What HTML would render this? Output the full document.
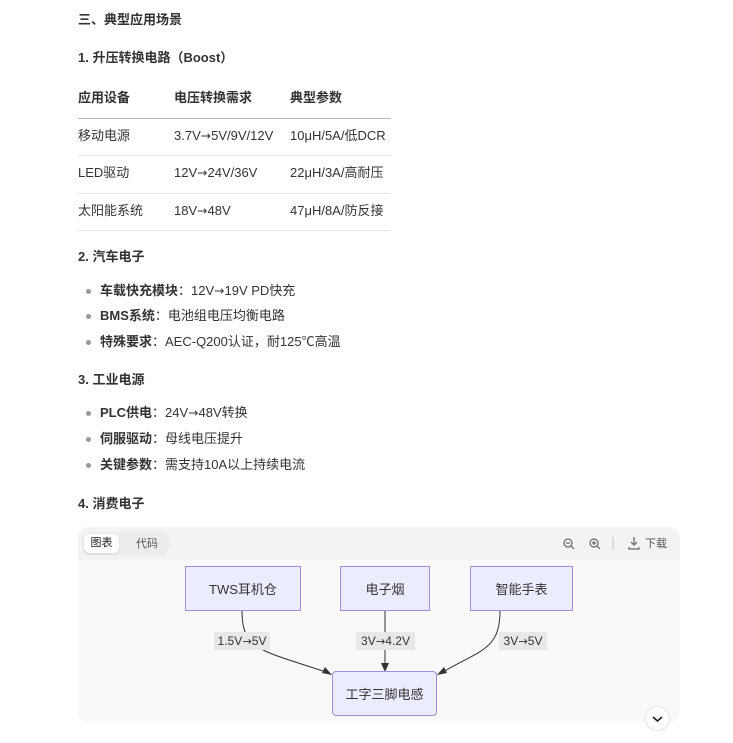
<!DOCTYPE html>
<html><head><meta charset="utf-8"><style>
*{margin:0;padding:0;box-sizing:border-box}
body{width:733px;height:743px;background:#fff;position:relative;overflow:hidden;font-family:"Liberation Sans","Noto Sans CJK SC",sans-serif;color:#333;font-size:13px}
.a{position:absolute;white-space:nowrap;line-height:16px}
.b{font-weight:bold}
.r{font-family:"DejaVu Sans",sans-serif;font-size:0.95em}
.hr{position:absolute;left:78px;width:313px;height:1px;background:#e6e6e6}
.dot{position:absolute;left:86px;width:5px;height:5px;border-radius:50%;background:#999}
.node{position:absolute;background:#ececff;border:1px solid #a58ae0;display:flex;align-items:center;justify-content:center;font-size:13px;color:#333}
.lbl{position:absolute;background:#e8e8e8;font-size:12px;line-height:18px;text-align:center;color:#333}
</style></head><body>
<div class="a b" style="left:78px;top:12px">三、典型应用场景</div>
<div class="a b" style="left:78px;top:50px">1. 升压转换电路（Boost）</div>
<div class="a b" style="left:78px;top:90px">应用设备</div>
<div class="a b" style="left:174px;top:90px">电压转换需求</div>
<div class="a b" style="left:290px;top:90px">典型参数</div>
<div class="hr" style="top:118px;background:#bbb"></div>
<div class="a" style="left:78px;top:128px">移动电源</div>
<div class="a" style="left:174px;top:128px">3.7V<span class="r">→</span>5V/9V/12V</div>
<div class="a" style="left:290px;top:128px">10μH/5A/低DCR</div>
<div class="hr" style="top:155px"></div>
<div class="a" style="left:78px;top:165px">LED驱动</div>
<div class="a" style="left:174px;top:165px">12V<span class="r">→</span>24V/36V</div>
<div class="a" style="left:290px;top:165px">22μH/3A/高耐压</div>
<div class="hr" style="top:193px"></div>
<div class="a" style="left:78px;top:203px">太阳能系统</div>
<div class="a" style="left:174px;top:203px">18V<span class="r">→</span>48V</div>
<div class="a" style="left:290px;top:203px">47μH/8A/防反接</div>
<div class="hr" style="top:230px"></div>

<div class="a b" style="left:78px;top:249px">2. 汽车电子</div>
<div class="dot" style="top:289px"></div><div class="a" style="left:100px;top:283px"><b>车载快充模块</b>：12V<span class="r">→</span>19V PD快充</div>
<div class="dot" style="top:314px"></div><div class="a" style="left:100px;top:308px"><b>BMS系统</b>：电池组电压均衡电路</div>
<div class="dot" style="top:340px"></div><div class="a" style="left:100px;top:334px"><b>特殊要求</b>：AEC-Q200认证，耐125℃高温</div>
<div class="a b" style="left:78px;top:372px">3. 工业电源</div>
<div class="dot" style="top:411px"></div><div class="a" style="left:100px;top:405px"><b>PLC供电</b>：24V<span class="r">→</span>48V转换</div>
<div class="dot" style="top:437px"></div><div class="a" style="left:100px;top:431px"><b>伺服驱动</b>：母线电压提升</div>
<div class="dot" style="top:463px"></div><div class="a" style="left:100px;top:457px"><b>关键参数</b>：需支持10A以上持续电流</div>
<div class="a b" style="left:78px;top:496px">4. 消费电子</div>

<div style="position:absolute;left:78px;top:527px;width:602px;height:196px;background:#f9f9f9;border-radius:12px;overflow:hidden">
 <div style="height:33px;background:#f3f3f3"></div>
</div>
<div style="position:absolute;left:82px;top:532px;width:87px;height:23px;background:#ececec;border-radius:8px"></div>
<div style="position:absolute;left:84px;top:534px;width:35px;height:19px;background:#fff;border-radius:6px;box-shadow:0 1px 2px rgba(0,0,0,.1);font-size:11px;line-height:19px;text-align:center;color:#222">图表</div>
<div class="a" style="left:136px;top:536px;font-size:11px;color:#555">代码</div>
<svg style="position:absolute;left:0;top:0" width="733" height="743">
 <g fill="none" stroke="#666" stroke-width="1.2">
  <circle cx="568" cy="543" r="4"/><line x1="571" y1="546" x2="574" y2="549"/><line x1="566" y1="543" x2="570" y2="543"/>
  <circle cx="594" cy="543" r="4"/><line x1="597" y1="546" x2="600" y2="549"/><line x1="592" y1="543" x2="596" y2="543"/><line x1="594" y1="541" x2="594" y2="545"/>
  <line x1="613" y1="537" x2="613" y2="550" stroke="#ccc"/>
  <path d="M634 537v8M631 542l3 3 3-3M629 547v2h10v-2"/>
 </g>
 <g fill="none" stroke="#333" stroke-width="1">
  <path d="M242 611 C242 650 260 650 326 672"/>
  <path d="M385 611 L385 666"/>
  <path d="M500 611 C500 650 480 650 443 672"/>
 </g>
 <g fill="#333">
  <polygon points="332,675 322,673 325,667"/>
  <polygon points="385,672 381,663 389,663"/>
  <polygon points="437,675 444,667 447,673"/>
 </g>
</svg>
<div class="a" style="left:645px;top:536px;font-size:11px;color:#555">下载</div>
<div class="node" style="left:185px;top:566px;width:116px;height:45px">TWS耳机仓</div>
<div class="node" style="left:340px;top:566px;width:90px;height:45px">电子烟</div>
<div class="node" style="left:470px;top:566px;width:103px;height:45px">智能手表</div>
<div class="node" style="left:332px;top:671px;width:105px;height:45px;border-radius:4px">工字三脚电感</div>
<div class="lbl" style="left:214px;top:632px;width:56px">1.5V<span class="r">→</span>5V</div>
<div class="lbl" style="left:356px;top:632px;width:59px">3V<span class="r">→</span>4.2V</div>
<div class="lbl" style="left:499px;top:632px;width:48px">3V<span class="r">→</span>5V</div>
<div style="position:absolute;left:645px;top:706px;width:25px;height:25px;border-radius:50%;background:#fff;border:1px solid #e5e5e5"></div>
<svg style="position:absolute;left:645px;top:706px" width="25" height="25"><path d="M8 11l4.5 4 4.5-4" fill="none" stroke="#222" stroke-width="1.6"/></svg>
</body></html>
